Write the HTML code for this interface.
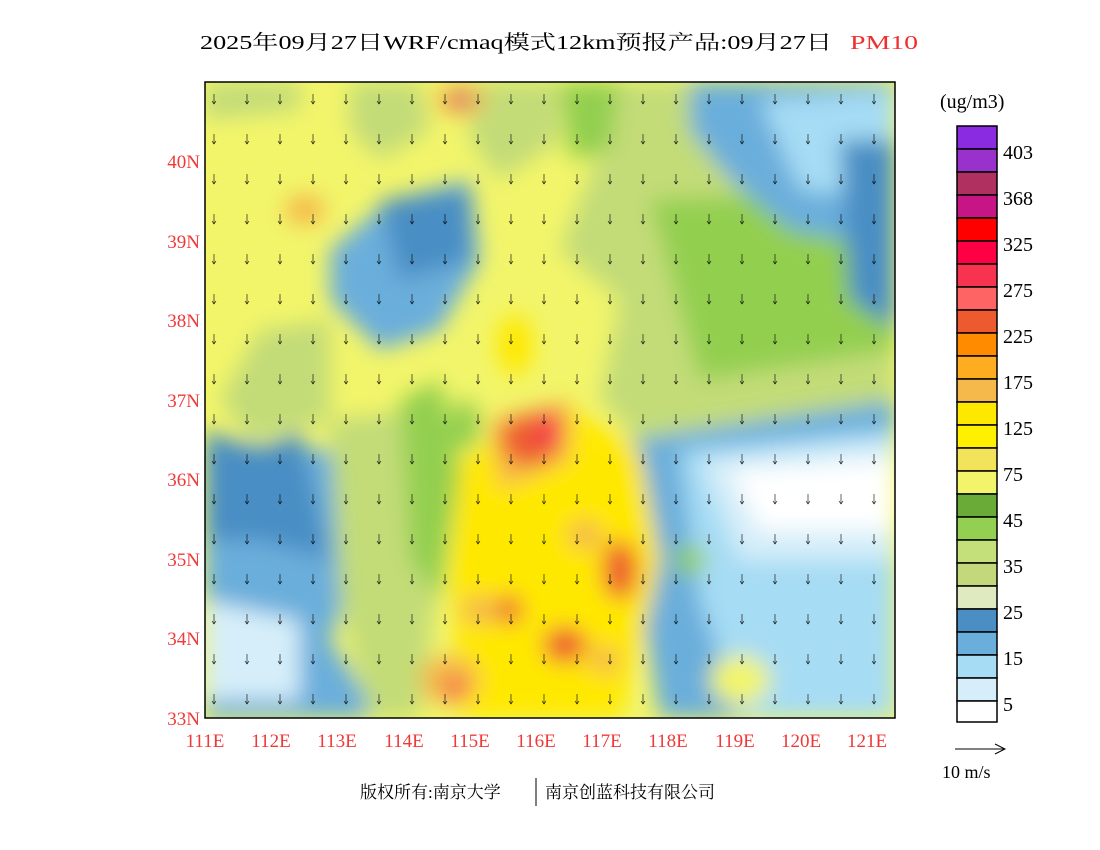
<!DOCTYPE html>
<html><head><meta charset="utf-8"><style>
body{margin:0;background:#fff;width:1100px;height:850px;overflow:hidden;font-family:"Liberation Serif","Noto Serif CJK SC",serif}
</style></head><body>
<svg width="1100" height="850" xmlns="http://www.w3.org/2000/svg" style="position:absolute;left:0;top:0">
<defs>
<filter id="b" x="-20%" y="-20%" width="140%" height="140%"><feGaussianBlur stdDeviation="11"/></filter>
<clipPath id="c"><rect x="205" y="82" width="690" height="636"/></clipPath>
<pattern id="w" width="33" height="40" patternUnits="userSpaceOnUse"><path d="M16 14 L16 24 M14 21 L16 24 L18 21" stroke="#000" stroke-width="0.6" fill="none"/></pattern>
</defs>
<text x="200" y="49" font-size="20" textLength="632" lengthAdjust="spacingAndGlyphs" font-family="Liberation Serif,'Noto Serif CJK SC',serif">2025年09月27日WRF/cmaq模式12km预报产品:09月27日</text>
<text x="850" y="49" font-size="20" fill="#f03030" textLength="68" lengthAdjust="spacingAndGlyphs" font-family="Liberation Serif,serif">PM10</text>
<g clip-path="url(#c)">
<rect x="205" y="82" width="690" height="636" fill="#f2f56a"/>
<g filter="url(#b)">
<path d="M600 82 L895 82 L895 430 L640 440 L600 400 L620 300 L560 250 L600 150 Z" fill="#c3dc78"/>
<path d="M650 200 L895 190 L895 350 L700 380 Z" fill="#93cf50"/>
<path d="M690 82 L895 82 L895 250 L790 230 L730 180 L690 130 Z" fill="#6aaedb"/>
<path d="M760 100 L895 90 L895 200 L800 190 Z" fill="#a6dcf4"/>
<path d="M840 140 L895 140 L895 330 L850 300 Z" fill="#4a8ec4"/>
<path d="M630 440 L895 400 L895 718 L660 718 L640 600 Z" fill="#6aaedb"/>
<path d="M680 450 L895 430 L895 718 L740 718 L700 600 Z" fill="#a6dcf4"/>
<path d="M700 460 L895 440 L895 560 L740 560 Z" fill="#d6eef9"/>
<path d="M730 470 L895 460 L895 530 L760 530 Z" fill="#ffffff"/>
<ellipse cx="740" cy="680" rx="30" ry="25" fill="#f2f56a"/>
<ellipse cx="690" cy="560" rx="15" ry="15" fill="#93cf50"/>
<path d="M205 440 L330 450 L360 560 L330 640 L380 718 L205 718 Z" fill="#6aaedb"/>
<path d="M205 600 L300 620 L300 700 L205 700 Z" fill="#d6eef9"/>
<path d="M205 430 L260 450 L300 430 L330 560 L260 540 L205 540 Z" fill="#4a8ec4"/>
<path d="M330 420 L420 410 L440 560 L420 718 L370 718 L340 600 Z" fill="#c3dc78"/>
<path d="M400 400 L440 380 L460 470 L440 600 L410 560 Z" fill="#93cf50"/>
<path d="M330 250 L390 200 L470 180 L480 260 L440 330 L380 350 L330 300 Z" fill="#6aaedb"/>
<path d="M380 200 L470 190 L470 260 L400 280 Z" fill="#4a8ec4"/>
<path d="M260 330 L330 320 L330 420 L250 440 L220 400 Z" fill="#c3dc78"/>
<path d="M350 82 L420 82 L430 130 L380 160 L350 130 Z" fill="#c3dc78"/>
<path d="M205 82 L300 82 L300 110 L205 120 Z" fill="#c3dc78"/>
<path d="M470 82 L560 82 L560 140 L500 180 L470 140 Z" fill="#c3dc78"/>
<path d="M560 82 L620 82 L610 150 L570 160 Z" fill="#93cf50"/>
<path d="M460 460 L560 400 L640 450 L660 560 L640 650 L620 718 L460 718 L450 580 Z" fill="#ffe800"/>
<path d="M490 420 L570 400 L570 460 L500 490 Z" fill="#f5b84a"/>
<ellipse cx="530" cy="440" rx="30" ry="25" fill="#ee5a30"/>
<ellipse cx="550" cy="430" rx="12" ry="20" fill="#f7334f"/>
<ellipse cx="620" cy="570" rx="18" ry="30" fill="#ee5a30"/>
<ellipse cx="585" cy="535" rx="18" ry="15" fill="#f5b84a"/>
<ellipse cx="565" cy="645" rx="22" ry="18" fill="#ee5a30"/>
<ellipse cx="605" cy="660" rx="15" ry="15" fill="#f5b84a"/>
<ellipse cx="450" cy="680" rx="30" ry="25" fill="#f5b84a"/>
<ellipse cx="455" cy="688" rx="10" ry="10" fill="#f7334f"/>
<ellipse cx="480" cy="610" rx="20" ry="15" fill="#f5b84a"/>
<ellipse cx="510" cy="610" rx="12" ry="15" fill="#ee5a30"/>
<ellipse cx="515" cy="345" rx="18" ry="30" fill="#ffe800"/>
<ellipse cx="460" cy="100" rx="25" ry="15" fill="#f5b84a"/>
<ellipse cx="460" cy="100" rx="10" ry="7" fill="#c4177e"/>
<ellipse cx="305" cy="210" rx="20" ry="15" fill="#f5b84a"/>
<ellipse cx="465" cy="425" rx="15" ry="25" fill="#93cf50"/>
</g>
<rect x="205" y="82" width="690" height="636" fill="url(#w)"/>
</g>
<rect x="205" y="82" width="690" height="636" fill="none" stroke="#000" stroke-width="1.5"/>
<g font-size="19" fill="#f03838" font-family="Liberation Serif,serif">
<g text-anchor="end">
<text x="200" y="168">40N</text><text x="200" y="248">39N</text><text x="200" y="327">38N</text><text x="200" y="407">37N</text><text x="200" y="486">36N</text><text x="200" y="566">35N</text><text x="200" y="645">34N</text><text x="200" y="725">33N</text>
</g>
<g text-anchor="middle">
<text x="205" y="747">111E</text><text x="271" y="747">112E</text><text x="337" y="747">113E</text><text x="404" y="747">114E</text><text x="470" y="747">115E</text><text x="536" y="747">116E</text><text x="602" y="747">117E</text><text x="668" y="747">118E</text><text x="735" y="747">119E</text><text x="801" y="747">120E</text><text x="867" y="747">121E</text>
</g>
</g>
<g stroke="#000" stroke-width="1.5">
<rect x="957" y="126" width="40" height="23" fill="#8a2be2"/>
<rect x="957" y="149" width="40" height="23" fill="#9932cc"/>
<rect x="957" y="172" width="40" height="23" fill="#b03060"/>
<rect x="957" y="195" width="40" height="23" fill="#c71585"/>
<rect x="957" y="218" width="40" height="23" fill="#ff0000"/>
<rect x="957" y="241" width="40" height="23" fill="#ff0044"/>
<rect x="957" y="264" width="40" height="23" fill="#f7334f"/>
<rect x="957" y="287" width="40" height="23" fill="#ff6464"/>
<rect x="957" y="310" width="40" height="23" fill="#ee5a30"/>
<rect x="957" y="333" width="40" height="23" fill="#ff8c00"/>
<rect x="957" y="356" width="40" height="23" fill="#ffad20"/>
<rect x="957" y="379" width="40" height="23" fill="#f5b84a"/>
<rect x="957" y="402" width="40" height="23" fill="#ffe800"/>
<rect x="957" y="425" width="40" height="23" fill="#fff000"/>
<rect x="957" y="448" width="40" height="23" fill="#f2e35a"/>
<rect x="957" y="471" width="40" height="23" fill="#f2f56a"/>
<rect x="957" y="494" width="40" height="23" fill="#6aaa36"/>
<rect x="957" y="517" width="40" height="23" fill="#93cf50"/>
<rect x="957" y="540" width="40" height="23" fill="#c3e07a"/>
<rect x="957" y="563" width="40" height="23" fill="#c3d87a"/>
<rect x="957" y="586" width="40" height="23" fill="#e0eac0"/>
<rect x="957" y="609" width="40" height="23" fill="#4a8ec4"/>
<rect x="957" y="632" width="40" height="23" fill="#6aaedb"/>
<rect x="957" y="655" width="40" height="23" fill="#a6dcf4"/>
<rect x="957" y="678" width="40" height="23" fill="#d6eef9"/>
<rect x="957" y="701" width="40" height="21" fill="#ffffff"/>
</g>
<g font-size="20" font-family="Liberation Serif,serif">
<text x="940" y="108">(ug/m3)</text>
<text x="1003" y="159">403</text><text x="1003" y="205">368</text><text x="1003" y="251">325</text><text x="1003" y="297">275</text><text x="1003" y="343">225</text><text x="1003" y="389">175</text><text x="1003" y="435">125</text><text x="1003" y="481">75</text><text x="1003" y="527">45</text><text x="1003" y="573">35</text><text x="1003" y="619">25</text><text x="1003" y="665">15</text><text x="1003" y="711">5</text>
<text x="942" y="778" font-size="18">10 m/s</text>
</g>
<path d="M955 749 L1005 749 M995 744 L1005 749 L995 754" stroke="#000" fill="none"/>
<text x="360" y="798" font-size="17" font-family="Liberation Serif,'Noto Serif CJK SC',serif">版权所有:南京大学</text>
<line x1="536" y1="778" x2="536" y2="806" stroke="#000"/>
<text x="545" y="798" font-size="17" font-family="Liberation Serif,'Noto Serif CJK SC',serif">南京创蓝科技有限公司</text>
</svg>
</body></html>
